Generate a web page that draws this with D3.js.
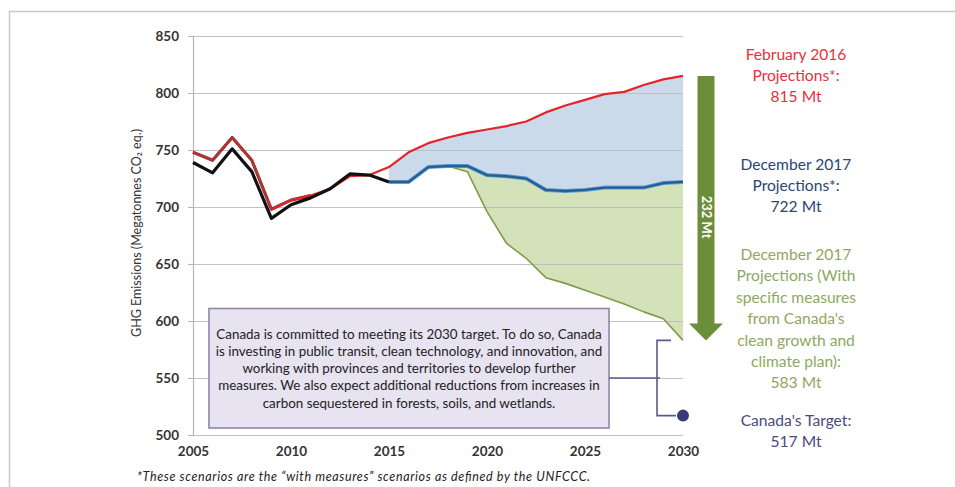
<!DOCTYPE html>
<html><head><meta charset="utf-8">
<script src="https://cdn.jsdelivr.net/npm/d3@7"></script>
<style>
html,body{margin:0;padding:0;background:#fff;}
svg{display:block;font-family:Lato,"Open Sans",sans-serif;}
</style></head>
<body><svg id="c" width="955" height="487"></svg>
<script>
// ---------- data ----------
const histYears = [2005,2006,2007,2008,2009,2010,2011,2012,2013,2014,2015];
const histActual = [739,730,751,731,690,702,708,716,729,728,722];
const feb2016Years = [2005,2006,2007,2008,2009,2010,2011,2012,2013,2014,2015,2016,2017,2018,2019,2020,2021,2022,2023,2024,2025,2026,2027,2028,2029,2030];
const feb2016 = [748,741,761,741,698,706,710,716,727,728,735,748,756,761,765,768,771,775,783,789,794,799,801,807,812,815];
const projYears = [2015,2016,2017,2018,2019,2020,2021,2022,2023,2024,2025,2026,2027,2028,2029,2030];
const dec2017 = [722,722,735,736,736,728,727,725,715,714,715,717,717,717,721,722];
const dec2017Measures = [722,722,735,736,731,696,668,655,638,633,627,621,615,608,602,583];
const target2030 = 517;
const yTicks = [500,550,600,650,700,750,800,850];
const xTicks = [2005,2010,2015,2020,2025,2030];
const yLabel = "GHG Emissions (Megatonnes CO\u2082 eq.)";
const boxLines = [
 "Canada is committed to meeting its 2030 target. To do so, Canada",
 "is investing in public transit, clean technology, and innovation, and",
 "working with provinces and territories to develop further",
 "measures. We also expect additional reductions from increases in",
 "carbon sequestered in forests, soils, and wetlands."
];
const notes = [
 {lines:["February 2016","Projections*:","815 Mt"], color:"#e8303a", y:55},
 {lines:["December 2017","Projections*:","722 Mt"], color:"#2c4571", y:165},
 {lines:["December 2017","Projections (With","specific measures","from Canada's","clean growth and","climate plan):","583 Mt"], color:"#8ea862", y:255},
 {lines:["Canada's Target:","517 Mt"], color:"#4b4a80", y:421}
];
const arrowLabel = "232 Mt";
const footnote = "*These scenarios are the \u201cwith measures\u201d scenarios as defined by the UNFCCC.";

// ---------- chart ----------
const svg = d3.select("#c");
const x = d3.scaleLinear().domain([2005,2030]).range([193,683]);
const y = d3.scaleLinear().domain([500,850]).range([435,36]);

// frame
svg.append("path").attr("d","M9.5,487 V11.5 H955").attr("fill","none").attr("stroke","#c9c9c9").attr("stroke-width",1.5);

const proj = projYears.map((yr,i)=>({yr, red: feb2016[feb2016Years.indexOf(yr)], blue: dec2017[i], green: dec2017Measures[i]}));

// fills
svg.append("path").datum(proj)
  .attr("d", d3.area().x(d=>x(d.yr)).y0(d=>y(d.blue)).y1(d=>y(d.red)))
  .attr("fill","#cbdaea");
svg.append("path").datum(proj)
  .attr("d", d3.area().x(d=>x(d.yr)).y0(d=>y(d.green)).y1(d=>y(d.blue)))
  .attr("fill","#d4e2b9");

// gridlines
const grid = svg.append("g").attr("transform","translate(193,0)")
  .call(d3.axisLeft(y).tickValues(yTicks).tickSize(-490).tickFormat(""));
grid.select(".domain").remove();
grid.selectAll("line").attr("stroke","#bdbdbd").attr("stroke-width",1.2).attr("opacity",0.9);

// y axis
const ya = svg.append("g").attr("transform","translate(193,0)")
  .call(d3.axisLeft(y).tickValues(yTicks).tickSize(5).tickPadding(9));
ya.select(".domain").attr("stroke","#b5b5b5").attr("stroke-width",1.2);
ya.selectAll("line").attr("stroke","#b5b5b5");
ya.selectAll("text").attr("font-size",13.5).attr("fill","#333").attr("font-family","Lato").attr("font-weight","bold");

// x axis
const xa = svg.append("g").attr("transform","translate(0,435)")
  .call(d3.axisBottom(x).tickValues(xTicks).tickSize(0).tickPadding(11).tickFormat(d3.format("d")));
xa.select(".domain").remove();
xa.selectAll("text").attr("font-size",13.5).attr("fill","#333").attr("font-family","Lato").attr("font-weight","bold");

// lines
const redData = feb2016Years.map((yr,i)=>({yr,v:feb2016[i]}));
const ln = d3.line().x(d=>x(d.yr)).y(d=>y(d.v));
svg.append("path").datum(redData.filter(d=>d.yr<=2011)).attr("d",ln)
  .attr("fill","none").attr("stroke","#8e2f2f").attr("stroke-width",3.2).attr("stroke-linejoin","round");
svg.append("path").datum(redData).attr("d",ln)
  .attr("fill","none").attr("stroke","#e3242b").attr("stroke-width",2.2).attr("stroke-linejoin","round");
svg.append("path").datum(redData.filter(d=>d.yr<=2009)).attr("d",ln)
  .attr("fill","none").attr("stroke","#a6393a").attr("stroke-width",2).attr("stroke-linejoin","round");

svg.append("path").datum(proj.map(d=>({yr:d.yr,v:d.green}))).attr("d",ln)
  .attr("fill","none").attr("stroke","#7f9b4b").attr("stroke-width",1.6).attr("stroke-linejoin","round");
svg.append("path").datum(proj.map(d=>({yr:d.yr,v:d.blue}))).attr("d",ln)
  .attr("fill","none").attr("stroke","#5aa3d9").attr("stroke-width",4).attr("stroke-linejoin","round");
svg.append("path").datum(proj.map(d=>({yr:d.yr,v:d.blue}))).attr("d",ln)
  .attr("fill","none").attr("stroke","#2a5e92").attr("stroke-width",2.4).attr("stroke-linejoin","round");

svg.append("path").datum(histYears.map((yr,i)=>({yr,v:histActual[i]}))).attr("d",ln)
  .attr("fill","none").attr("stroke","#111").attr("stroke-width",3.2).attr("stroke-linejoin","round");

// text box
const box = svg.append("g");
box.append("rect").attr("x",209).attr("y",308.5).attr("width",400).attr("height",119.5)
  .attr("fill","#e7e3f0").attr("stroke","#8d87ab").attr("stroke-width",1.6);
box.selectAll("text").data(boxLines).join("text")
  .attr("x",409).attr("y",(d,i)=>338.5+i*17.3).attr("text-anchor","middle")
  .attr("font-size",13.4).attr("fill","#222").attr("font-family","Lato").text(d=>d);

// bracket + target
const bx = x(2030)-26;
svg.append("path")
  .attr("d",`M${x(2030)-12},${y(583)} H${bx} V${y(target2030)} H${x(2030)-7}`)
  .attr("fill","none").attr("stroke","#5c5b88").attr("stroke-width",1.6);
svg.append("path")
  .attr("d",`M609,${y(550)} H${bx+3}`)
  .attr("fill","none").attr("stroke","#5c5b88").attr("stroke-width",1.6);
svg.append("circle").attr("cx",x(2030)).attr("cy",y(target2030)).attr("r",6).attr("fill","#3b3a78");

// arrow 815 -> 583
const ax = x(2030)+23;
const arrTop = y(feb2016[feb2016.length-1]), arrTip = y(dec2017Measures[dec2017Measures.length-1]);
svg.append("path")
  .attr("d",`M${ax-8.5},${arrTop} H${ax+8.5} V${arrTip-17} H${ax+17} L${ax},${arrTip} L${ax-17},${arrTip-17} H${ax-8.5} Z`)
  .attr("fill","#6b8e3a");
svg.append("text").attr("transform",`translate(${ax-4.5},${(arrTop+arrTip)/2+9}) rotate(90)`)
  .attr("text-anchor","middle").attr("font-size",13).attr("font-weight","bold").attr("fill","#fff")
  .attr("font-family","Lato").text(arrowLabel);

// right notes
notes.forEach(n=>{
  svg.append("g").selectAll("text").data(n.lines).join("text")
    .attr("x",796).attr("y",(d,i)=>n.y+5+i*(n.lines.length>3?21.4:21.2)).attr("text-anchor","middle")
    .attr("font-size",15.6).attr("fill",n.color).attr("font-family","Lato").text(d=>d);
});

// y label
svg.append("text").attr("transform","translate(141,233) rotate(-90)").attr("text-anchor","middle")
  .attr("font-size",12.5).attr("fill","#333").attr("font-family","Lato").text(yLabel);

// footnote
svg.append("text").attr("x",137).attr("y",481).attr("font-size",12.5).attr("font-style","italic")
  .attr("textLength",453).attr("lengthAdjust","spacing")
  .attr("fill","#222").attr("font-family","Lato").text(footnote);
</script></body></html>
